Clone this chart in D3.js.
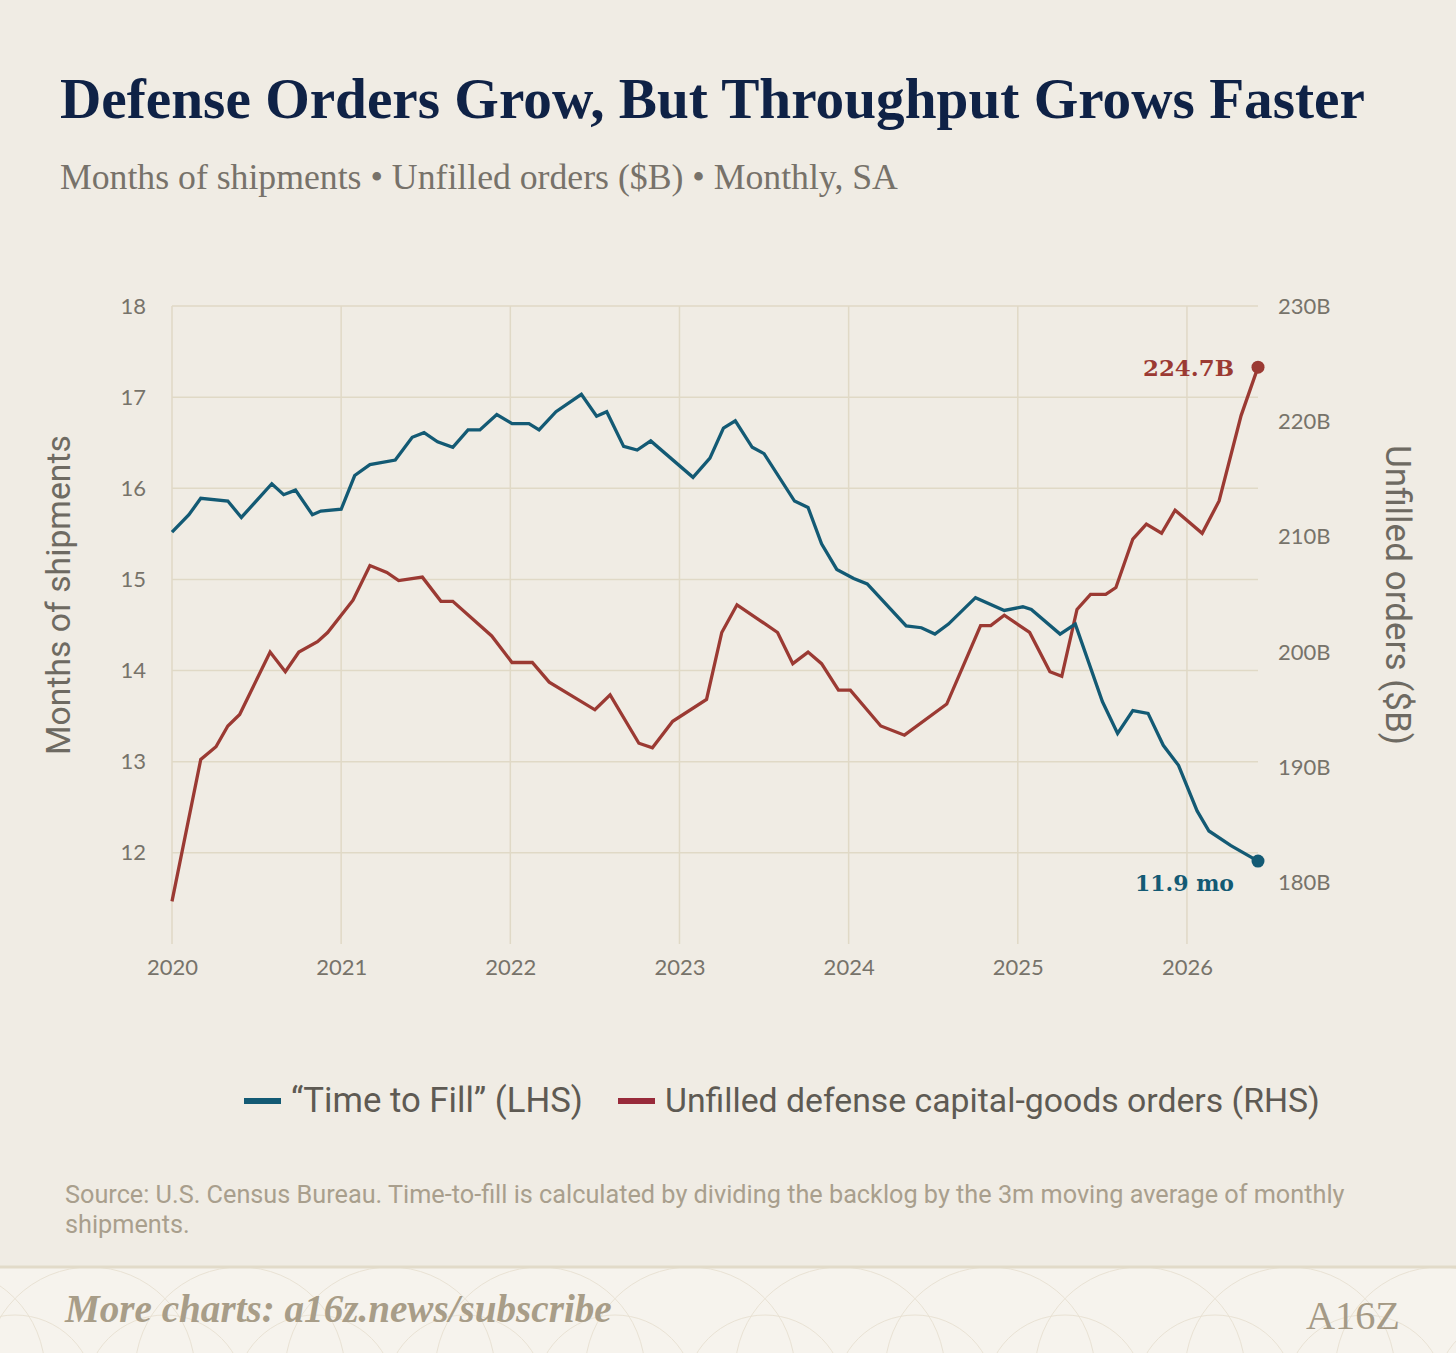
<!DOCTYPE html>
<html>
<head>
<meta charset="utf-8">
<script src="https://cdn.jsdelivr.net/npm/d3@7"></script>
<style>
  html, body { margin: 0; padding: 0; background: #f0ece4; }
  svg { display: block; }
</style>
</head>
<body>
<svg id="chart" width="1456" height="1353"></svg>
<script>
// "Time to Fill" - months of shipments (LHS)
const fillYears = [2020.00, 2020.10, 2020.17, 2020.33, 2020.41, 2020.59, 2020.66, 2020.73, 2020.83, 2020.88,
  2021.00, 2021.08, 2021.17, 2021.32, 2021.42, 2021.49, 2021.57, 2021.66, 2021.75, 2021.82, 2021.92,
  2022.01, 2022.11, 2022.17, 2022.27, 2022.42, 2022.51, 2022.57, 2022.67, 2022.75, 2022.83,
  2023.08, 2023.18, 2023.26, 2023.33, 2023.43, 2023.50, 2023.68, 2023.76, 2023.84, 2023.93,
  2024.03, 2024.11, 2024.34, 2024.43, 2024.51, 2024.59, 2024.75, 2024.92,
  2025.03, 2025.08, 2025.25, 2025.34, 2025.50, 2025.59, 2025.68, 2025.77, 2025.86, 2025.95,
  2026.06, 2026.13, 2026.26, 2026.42];
const fillMonths = [15.52, 15.71, 15.89, 15.86, 15.68, 16.05, 15.93, 15.98, 15.71, 15.75,
  15.77, 16.14, 16.26, 16.31, 16.56, 16.61, 16.51, 16.45, 16.64, 16.64, 16.81,
  16.71, 16.71, 16.64, 16.84, 17.03, 16.79, 16.84, 16.46, 16.42, 16.52,
  16.12, 16.33, 16.66, 16.74, 16.45, 16.38, 15.86, 15.79, 15.39, 15.11,
  15.01, 14.95, 14.49, 14.47, 14.40, 14.51, 14.80, 14.66,
  14.70, 14.67, 14.40, 14.51, 13.66, 13.31, 13.56, 13.53, 13.18, 12.96,
  12.46, 12.24, 12.08, 11.91];

// unfilled defense capital-goods orders, $B (RHS)
const orderYears = [2020.00, 2020.17, 2020.26, 2020.33, 2020.40, 2020.58, 2020.67, 2020.75, 2020.86, 2020.92,
  2021.07, 2021.17, 2021.27, 2021.34, 2021.48, 2021.59, 2021.66, 2021.89,
  2022.01, 2022.13, 2022.23, 2022.50, 2022.59, 2022.76, 2022.84, 2022.96,
  2023.16, 2023.25, 2023.34, 2023.58, 2023.67, 2023.76, 2023.84, 2023.94,
  2024.01, 2024.19, 2024.33, 2024.58, 2024.78, 2024.84, 2024.92,
  2025.07, 2025.19, 2025.26, 2025.35, 2025.43, 2025.52, 2025.58, 2025.68, 2025.76, 2025.85, 2025.93,
  2026.09, 2026.19, 2026.32, 2026.42];
const orderValues = [178.4, 190.7, 191.8, 193.6, 194.6, 200.0, 198.3, 200.0, 200.9, 201.7,
  204.5, 207.5, 206.9, 206.2, 206.5, 204.4, 204.4, 201.4,
  199.1, 199.1, 197.4, 195.0, 196.3, 192.1, 191.7, 194.0,
  195.9, 201.7, 204.1, 201.7, 199.0, 200.0, 199.0, 196.7,
  196.7, 193.6, 192.8, 195.5, 202.3, 202.3, 203.2,
  201.7, 198.3, 197.9, 203.7, 205.0, 205.0, 205.6, 209.8, 211.1, 210.3, 212.3,
  210.3, 213.1, 220.5, 224.7];

const yearTicks = [2020, 2021, 2022, 2023, 2024, 2025, 2026];
const leftTicks = [12, 13, 14, 15, 16, 17, 18];
const rightTicks = [180, 190, 200, 210, 220, 230];

const legendLabels = ['\u201CTime to Fill\u201D (LHS)', 'Unfilled defense capital-goods orders (RHS)'];

const blue = '#135a74', red = '#9b3a33';
const serif = '"Liberation Serif", "DejaVu Serif", serif';
const sans = 'Roboto, "Open Sans", sans-serif';
const tickFont = 'Lato, "Open Sans", sans-serif';

const svg = d3.select('#chart');

// fit a text element to a target width by scaling its font size
function fit(sel, w) {
  const fs = parseFloat(sel.attr('font-size'));
  const cur = sel.node().getComputedTextLength();
  sel.attr('font-size', (fs * w / cur).toFixed(2));
  return sel;
}

svg.append('rect').attr('width', 1456).attr('height', 1353).attr('fill', '#f0ece4');

// footer band with faint pattern
const foot = svg.append('g');
foot.append('clipPath').attr('id', 'footclip')
  .append('rect').attr('x', 0).attr('y', 1268).attr('width', 1456).attr('height', 85);
foot.append('rect').attr('x', 0).attr('y', 1268).attr('width', 1456).attr('height', 85).attr('fill', '#f6f3ed');
const pat = foot.append('g').attr('clip-path', 'url(#footclip)')
  .attr('fill', 'none').attr('stroke', '#e9e2d4').attr('stroke-width', 1);
d3.range(-60, 1540, 150).forEach(cx => {
  pat.append('circle').attr('cx', cx).attr('cy', 1372).attr('r', 105);
  pat.append('circle').attr('cx', cx + 75).attr('cy', 1395).attr('r', 80);
});
foot.append('line').attr('x1', 0).attr('x2', 1456).attr('y1', 1267).attr('y2', 1267)
  .attr('stroke', '#e2dbc9').attr('stroke-width', 3);

// title + subtitle
fit(svg.append('text').attr('x', 60).attr('y', 118)
  .attr('font-family', serif).attr('font-weight', 700).attr('font-size', 56)
  .attr('fill', '#0f2246')
  .text('Defense Orders Grow, But Throughput Grows Faster'), 1305);

fit(svg.append('text').attr('x', 60).attr('y', 189)
  .attr('font-family', serif).attr('font-weight', 400).attr('font-size', 36)
  .attr('fill', '#77726a')
  .text('Months of shipments \u2022 Unfilled orders ($B) \u2022 Monthly, SA'), 838);

// scales
const x = d3.scaleLinear().domain([2020, 2026.42]).range([172, 1258]);
const yL = d3.scaleLinear().domain([11, 18]).range([944, 306]);
const yR = d3.scaleLinear().domain([174.7, 230]).range([944, 306]);

// grid
const grid = svg.append('g').attr('stroke', '#e0d9c6').attr('stroke-width', 1.5);
grid.selectAll('.h').data(leftTicks).join('line')
  .attr('x1', x.range()[0]).attr('x2', x.range()[1])
  .attr('y1', d => yL(d)).attr('y2', d => yL(d));
grid.selectAll('.v').data(yearTicks).join('line')
  .attr('x1', d => x(d)).attr('x2', d => x(d))
  .attr('y1', yL.range()[1]).attr('y2', yL.range()[0]);

// axes (labels only)
const axL = svg.append('g').attr('transform', `translate(${x.range()[0]},0)`)
  .call(d3.axisLeft(yL).tickValues(leftTicks).tickSize(0).tickPadding(26).tickFormat(d3.format('d')));
const axR = svg.append('g').attr('transform', `translate(${x.range()[1]},0)`)
  .call(d3.axisRight(yR).tickValues(rightTicks).tickSize(0).tickPadding(20).tickFormat(d => d + 'B'));
const axB = svg.append('g').attr('transform', `translate(0,${yL.range()[0]})`)
  .call(d3.axisBottom(x).tickValues(yearTicks).tickSize(0).tickPadding(15).tickFormat(d3.format('d')));
[axL, axR, axB].forEach(a => {
  a.select('.domain').remove();
  a.selectAll('text').attr('font-family', tickFont).attr('font-size', 22).attr('fill', '#77736a');
});

// axis titles
fit(svg.append('text').attr('transform', 'translate(70,595) rotate(-90)')
  .attr('text-anchor', 'middle').attr('font-family', sans).attr('font-size', 30)
  .attr('fill', '#6e6a62').text('Months of shipments'), 320);
fit(svg.append('text').attr('transform', 'translate(1386,595) rotate(90)')
  .attr('text-anchor', 'middle').attr('font-family', sans).attr('font-size', 30)
  .attr('fill', '#6e6a62').text('Unfilled orders ($B)'), 300);

// lines
const fillLine = d3.line().x(d => x(d[0])).y(d => yL(d[1]));
const orderLine = d3.line().x(d => x(d[0])).y(d => yR(d[1]));
const fillPts = fillYears.map((t, i) => [t, fillMonths[i]]);
const orderPts = orderYears.map((t, i) => [t, orderValues[i]]);

svg.append('path').datum(orderPts).attr('d', orderLine)
  .attr('fill', 'none').attr('stroke', red).attr('stroke-width', 3.3).attr('stroke-linejoin', 'miter');
svg.append('path').datum(fillPts).attr('d', fillLine)
  .attr('fill', 'none').attr('stroke', blue).attr('stroke-width', 3.3).attr('stroke-linejoin', 'miter');

// end dots + labels
const lastF = fillPts[fillPts.length - 1], lastO = orderPts[orderPts.length - 1];
svg.append('circle').attr('cx', x(lastO[0])).attr('cy', yR(lastO[1])).attr('r', 6.5).attr('fill', red);
svg.append('circle').attr('cx', x(lastF[0])).attr('cy', yL(lastF[1])).attr('r', 6.5).attr('fill', blue);

fit(svg.append('text').attr('x', x(lastO[0]) - 24).attr('y', yR(lastO[1]) + 9)
  .attr('text-anchor', 'end').attr('font-family', '"DejaVu Serif", serif').attr('font-weight', 700)
  .attr('font-size', 24).attr('fill', red).text(lastO[1].toFixed(1) + 'B'), 91);
fit(svg.append('text').attr('x', x(lastF[0]) - 24).attr('y', yL(lastF[1]) + 30)
  .attr('text-anchor', 'end').attr('font-family', '"DejaVu Serif", serif').attr('font-weight', 700)
  .attr('font-size', 24).attr('fill', blue).text(lastF[1].toFixed(1) + ' mo'), 99);

// legend
const leg = svg.append('g');
leg.append('rect').attr('x', 244).attr('y', 1098).attr('width', 37).attr('height', 6).attr('fill', blue);
fit(leg.append('text').attr('x', 291).attr('y', 1112).attr('font-family', sans).attr('font-size', 28)
  .attr('fill', '#5e5a53').text(legendLabels[0]), 292);
leg.append('rect').attr('x', 618).attr('y', 1098).attr('width', 37).attr('height', 6).attr('fill', '#982a3a');
fit(leg.append('text').attr('x', 665).attr('y', 1112).attr('font-family', sans).attr('font-size', 28)
  .attr('fill', '#5e5a53').text(legendLabels[1]), 655);

// source note
const src1 = svg.append('text').attr('x', 65).attr('y', 1203).attr('font-family', sans).attr('font-size', 20)
  .attr('fill', '#a99f8d')
  .text('Source: U.S. Census Bureau. Time-to-fill is calculated by dividing the backlog by the 3m moving average of monthly');
fit(src1, 1280);
svg.append('text').attr('x', 65).attr('y', 1233).attr('font-family', sans).attr('font-size', src1.attr('font-size'))
  .attr('fill', '#a99f8d').text('shipments.');

// footer text + mark
fit(svg.append('text').attr('x', 65).attr('y', 1322).attr('font-family', serif)
  .attr('font-weight', 700).attr('font-style', 'italic').attr('font-size', 30)
  .attr('fill', '#a89d88').text('More charts: a16z.news/subscribe'), 547);
fit(svg.append('text').attr('x', 1306).attr('y', 1329).attr('font-family', serif)
  .attr('font-size', 50).attr('fill', '#a59a86').text('A16Z'), 94);
</script>
</body>
</html>
